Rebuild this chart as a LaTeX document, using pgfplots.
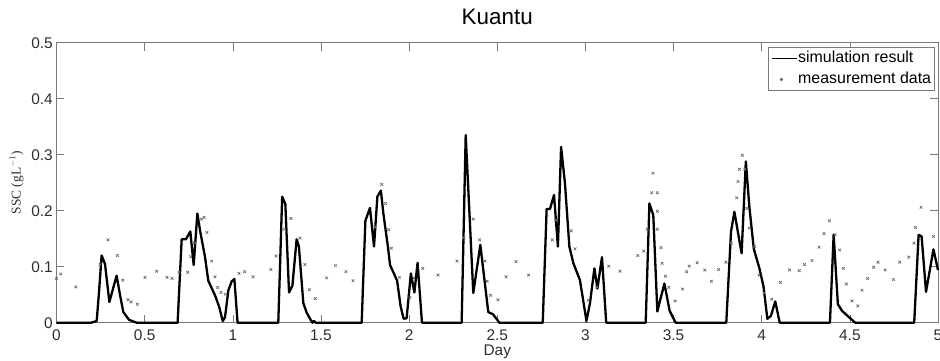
\documentclass[border=0pt]{standalone}
\usepackage{pgfplots}
\pgfplotsset{compat=1.18}
\usepackage{fontspec}
\setmainfont{Liberation Sans}
\newfontfamily\serifface{Liberation Serif}

\definecolor{boxgray}{HTML}{7A7A7A}
\definecolor{labelgray}{HTML}{2E2E2E}
\definecolor{markgray}{HTML}{6A6A6A}

\begin{document}
\begin{tikzpicture}[x=1bp,y=1bp]
\useasboundingbox (-56.5,-37.3) rectangle (883.5,322.7);
\begin{axis}[
  at={(0,0)}, anchor=south west,
  width=881.5bp, height=280bp, scale only axis,
  xmin=0, xmax=5, ymin=0, ymax=0.5,
  clip=false,
  xtick={0,0.5,1,1.5,2,2.5,3,3.5,4,4.5,5},
  xticklabels={0,0.5,1,1.5,2,2.5,3,3.5,4,4.5,5},
  ytick={0,0.1,0.2,0.3,0.4,0.5},
  yticklabels={0,0.1,0.2,0.3,0.4,0.5},
  tick align=inside,
  major tick length=8bp,
  tick style={draw=boxgray, line width=0.6bp},
  axis line style={draw=boxgray, line width=0.8bp},
  xticklabel style={anchor=base, inner sep=0pt, yshift=-18bp,
    font=\fontsize{15.5}{18}\selectfont, text=labelgray},
  yticklabel style={anchor=east, inner sep=0pt, xshift=-3.5bp,
    font=\fontsize{15.5}{18}\selectfont, text=labelgray},
  title={Kuantu},
  title style={at={(axis description cs:0.5,1)}, anchor=base, yshift=12.7bp,
    inner sep=0pt, font=\fontsize{22.5}{26}\selectfont},
  xlabel={Day},
  xlabel style={at={(axis description cs:0.5,0)}, anchor=base, yshift=-32.5bp,
    inner sep=0pt, font=\fontsize{15.5}{18}\selectfont, text=labelgray},
  ylabel={\serifface SSC (gL$^{-1}$)},
  every axis y label/.style={at={(axis description cs:-0.0454,0.5)},
    rotate=90, anchor=center},
  ylabel style={inner sep=0pt, font=\fontsize{13.5}{16}\selectfont, text=labelgray},
  legend style={at={(axis description cs:0.9966,0.9846)}, anchor=north east,
    draw=boxgray, line width=0.8bp, fill=white,
    inner xsep=3bp, inner ysep=3bp, row sep=5bp, column sep=0bp,
    font=\fontsize{16}{19}\selectfont,
    nodes={inner xsep=0.5bp, inner ysep=0bp, text height=12bp, text depth=4bp}},
  legend cell align=left,
]
% simulated suspended sediment concentration
\addplot[black, line width=2.3bp, line join=round, mark=none,
  legend image code/.code={\draw[black, line width=1.5bp] (1.5bp,0bp) -- (26.5bp,0bp);}]
  coordinates {
  (0,0) (0.196,0) (0.228,0.003) (0.240,0.05) (0.256,0.120) (0.275,0.105)
  (0.300,0.037) (0.341,0.084) (0.360,0.050) (0.379,0.019) (0.412,0.005) (0.455,0)
  (0.687,0) (0.710,0.149) (0.734,0.149) (0.759,0.163) (0.778,0.103) (0.799,0.195)
  (0.814,0.165) (0.842,0.118) (0.861,0.075) (0.899,0.049) (0.922,0.029) (0.943,0.003)
  (0.956,0.010) (0.975,0.058) (0.994,0.074) (1.009,0.078) (1.027,0)
  (1.258,0) (1.280,0.225) (1.298,0.212) (1.319,0.054) (1.338,0.066) (1.362,0.149)
  (1.375,0.136) (1.400,0.035) (1.419,0.018) (1.440,0.006) (1.452,0) (1.460,0.003) (1.470,0)
  (1.731,0) (1.752,0.182) (1.778,0.205) (1.801,0.136) (1.820,0.225) (1.840,0.236)
  (1.854,0.195) (1.880,0.135) (1.892,0.103) (1.932,0.075) (1.952,0.029) (1.969,0.007)
  (1.986,0.008) (2.010,0.088) (2.030,0.054) (2.048,0.107) (2.073,0)
  (2.298,0) (2.321,0.335) (2.364,0.053) (2.404,0.139) (2.449,0.019) (2.476,0.015) (2.512,0)
  (2.758,0) (2.780,0.203) (2.799,0.203) (2.822,0.228) (2.844,0.136) (2.862,0.314)
  (2.884,0.249) (2.909,0.136) (2.932,0.106) (2.969,0.076) (3.006,0.003) (3.026,0.035)
  (3.051,0.097) (3.068,0.061) (3.094,0.117) (3.118,0)
  (3.342,0) (3.363,0.213) (3.385,0.192) (3.408,0.020) (3.448,0.070) (3.478,0.021) (3.512,0)
  (3.799,0) (3.826,0.163) (3.845,0.198) (3.886,0.124) (3.910,0.288) (3.930,0.207)
  (3.955,0.132) (3.987,0.097) (4.010,0.065) (4.032,0.007) (4.052,0.012) (4.077,0.038) (4.102,0)
  (4.387,0) (4.408,0.157) (4.432,0.033) (4.456,0.021) (4.530,0)
  (4.865,0) (4.890,0.157) (4.907,0.154) (4.932,0.055) (4.974,0.131) (5.000,0.094)
  };
\addlegendentry{simulation result}
% field measurements
\addplot[only marks, mark=x, mark size=1.9bp, markgray, mark options={line width=0.7bp},
  legend image code/.code={\fill[markgray] (11bp,0bp) circle (1.3bp);}]
  coordinates {
  (0.000,0.079) (0.024,0.087) (0.109,0.064) (0.247,0.104) (0.292,0.148) (0.345,0.120)
  (0.376,0.076) (0.406,0.041) (0.423,0.037) (0.459,0.033) (0.502,0.081) (0.568,0.092)
  (0.627,0.081) (0.655,0.079) (0.695,0.090) (0.744,0.090) (0.761,0.118) (0.782,0.142)
  (0.823,0.185) (0.837,0.188) (0.853,0.161) (0.880,0.110) (0.899,0.082) (0.914,0.063)
  (0.933,0.054) (0.958,0.051) (1.035,0.088) (1.067,0.091) (1.115,0.082) (1.216,0.095)
  (1.246,0.119) (1.294,0.167) (1.329,0.186) (1.381,0.151) (1.409,0.104) (1.434,0.059)
  (1.468,0.043) (1.532,0.080) (1.582,0.102) (1.642,0.091) (1.682,0.075) (1.806,0.171)
  (1.845,0.247) (1.867,0.213) (1.884,0.166) (1.899,0.133) (1.945,0.081) (2.005,0.045)
  (2.027,0.080) (2.077,0.097) (2.164,0.085) (2.272,0.110) (2.310,0.152) (2.364,0.185)
  (2.400,0.148) (2.430,0.110) (2.443,0.074) (2.462,0.049) (2.504,0.041) (2.550,0.082)
  (2.606,0.109) (2.678,0.085) (2.812,0.148) (2.831,0.183) (2.920,0.164) (2.941,0.132)
  (3.017,0.040) (3.064,0.064) (3.132,0.101) (3.196,0.092) (3.297,0.120) (3.331,0.128)
  (3.351,0.167) (3.376,0.232) (3.383,0.267) (3.408,0.232) (3.408,0.199) (3.408,0.167)
  (3.429,0.134) (3.435,0.106) (3.454,0.083) (3.473,0.063) (3.509,0.039) (3.551,0.060)
  (3.574,0.091) (3.589,0.101) (3.634,0.107) (3.677,0.094) (3.715,0.074) (3.755,0.095)
  (3.797,0.108) (3.827,0.142) (3.858,0.223) (3.866,0.252) (3.873,0.274) (3.890,0.299)
  (3.904,0.274) (3.915,0.204) (3.930,0.169) (3.960,0.136) (3.985,0.085) (4.013,0.053)
  (4.057,0.042) (4.106,0.072) (4.158,0.094) (4.213,0.093) (4.242,0.104) (4.285,0.111)
  (4.325,0.135) (4.353,0.159) (4.384,0.182) (4.416,0.157) (4.442,0.130) (4.463,0.097)
  (4.480,0.069) (4.512,0.039) (4.545,0.030) (4.569,0.058) (4.601,0.079) (4.635,0.099)
  (4.660,0.108) (4.700,0.094) (4.747,0.077) (4.783,0.108) (4.834,0.117) (4.864,0.142)
  (4.872,0.170) (4.904,0.206) (4.974,0.154)
  };
\addlegendentry{measurement data}
\end{axis}
\end{tikzpicture}
\end{document}
